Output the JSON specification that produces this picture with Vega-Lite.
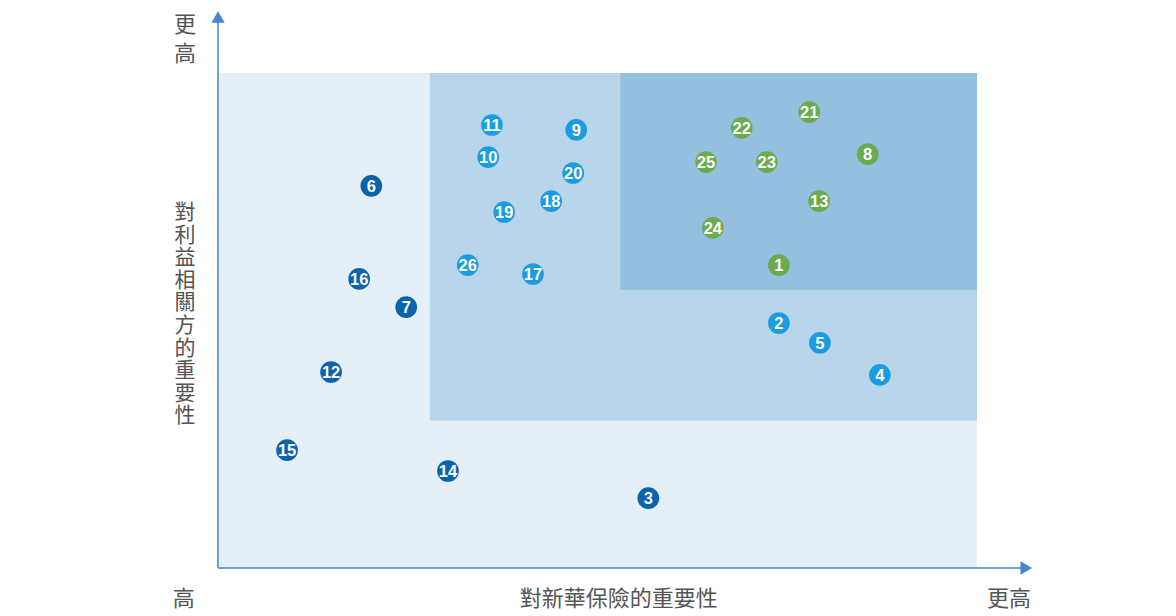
{
  "$schema": "https://vega.github.io/schema/vega-lite/v6.json",
  "width": 834.9,
  "height": 564.3,
  "autosize": {"type": "none"},
  "padding": {"left": 218, "top": 3.7, "right": 123.1, "bottom": 48},
  "background": "white",
  "config": {"view": {"stroke": null}},
  "datasets": {
    "zones": [
      {"zone": "low", "x0": 0, "x1": 100, "y0": 0, "y1": 100},
      {"zone": "mid", "x0": 27.9, "x1": 100, "y0": 29.8, "y1": 100},
      {"zone": "high", "x0": 53.0, "x1": 100, "y0": 56.2, "y1": 100}
    ],
    "issues": [
      {"id": "1", "company": 73.9, "stakeholder": 61.2, "group": "green"},
      {"id": "2", "company": 73.9, "stakeholder": 49.5, "group": "medium"},
      {"id": "3", "company": 56.7, "stakeholder": 14.1, "group": "dark"},
      {"id": "4", "company": 87.2, "stakeholder": 39.0, "group": "medium"},
      {"id": "5", "company": 79.3, "stakeholder": 45.5, "group": "medium"},
      {"id": "6", "company": 20.2, "stakeholder": 77.2, "group": "dark"},
      {"id": "7", "company": 24.8, "stakeholder": 52.7, "group": "dark"},
      {"id": "8", "company": 85.6, "stakeholder": 83.6, "group": "green"},
      {"id": "9", "company": 47.2, "stakeholder": 88.5, "group": "medium"},
      {"id": "10", "company": 35.6, "stakeholder": 83.0, "group": "medium"},
      {"id": "11", "company": 36.1, "stakeholder": 89.5, "group": "medium"},
      {"id": "12", "company": 14.9, "stakeholder": 39.6, "group": "dark"},
      {"id": "13", "company": 79.2, "stakeholder": 74.1, "group": "green"},
      {"id": "14", "company": 30.3, "stakeholder": 19.6, "group": "dark"},
      {"id": "15", "company": 9.1, "stakeholder": 23.8, "group": "dark"},
      {"id": "16", "company": 18.6, "stakeholder": 58.4, "group": "dark"},
      {"id": "17", "company": 41.5, "stakeholder": 59.4, "group": "medium"},
      {"id": "18", "company": 43.9, "stakeholder": 74.1, "group": "medium"},
      {"id": "19", "company": 37.7, "stakeholder": 71.9, "group": "medium"},
      {"id": "20", "company": 46.8, "stakeholder": 79.8, "group": "medium"},
      {"id": "21", "company": 77.9, "stakeholder": 92.1, "group": "green"},
      {"id": "22", "company": 69.0, "stakeholder": 88.9, "group": "green"},
      {"id": "23", "company": 72.3, "stakeholder": 82.0, "group": "green"},
      {"id": "24", "company": 65.2, "stakeholder": 68.7, "group": "green"},
      {"id": "25", "company": 64.3, "stakeholder": 82.0, "group": "green"},
      {"id": "26", "company": 32.9, "stakeholder": 61.2, "group": "medium"}
    ],
    "labels": [
      {"t": "更\n高", "lx": -4.35, "ly": 109.6, "kind": "a"},
      {"t": "對\n利\n益\n相\n關\n方\n的\n重\n要\n性", "lx": -4.35, "ly": 71.7, "kind": "b"},
      {"t": "高", "lx": -4.5, "ly": -6.3, "kind": "a"},
      {"t": "更高", "lx": 104.2, "ly": -6.3, "kind": "a"},
      {"t": "對新華保險的重要性", "lx": 52.8, "ly": -6.3, "kind": "a"}
    ],
    "axes": [
      {"ax": "y", "x0": 0, "x1": 0, "y0": 0, "y1": 111},
      {"ax": "x", "x0": 0, "x1": 106, "y0": 0, "y1": 0}
    ],
    "arrows": [
      {"ax": "y", "ax_x": 0, "ax_y": 111.3, "shape": "triangle-up"},
      {"ax": "x", "ax_x": 106.5, "ax_y": 0, "shape": "triangle-right"}
    ]
  },
  "layer": [
    {
      "data": {"name": "zones"},
      "mark": {"type": "rect"},
      "encoding": {
        "x": {"field": "x0", "type": "quantitative", "scale": {"domain": [0, 110], "nice": false, "zero": false}, "axis": null},
        "x2": {"field": "x1"},
        "y": {"field": "y0", "type": "quantitative", "scale": {"domain": [0, 114], "nice": false, "zero": false}, "axis": null},
        "y2": {"field": "y1"},
        "color": {"field": "zone", "type": "nominal", "scale": {"domain": ["low", "mid", "high"], "range": ["#e5eff7", "#b9d5ea", "#94bfdf"]}, "legend": null}
      }
    },
    {
      "data": {"name": "axes"},
      "mark": {"type": "rule", "color": "#73a0d4", "strokeWidth": 2},
      "encoding": {
        "x": {"field": "x0", "type": "quantitative"},
        "x2": {"field": "x1"},
        "y": {"field": "y0", "type": "quantitative"},
        "y2": {"field": "y1"}
      }
    },
    {
      "data": {"name": "arrows"},
      "mark": {"type": "point", "filled": true, "color": "#4a86c8", "opacity": 1, "size": 180, "clip": false},
      "encoding": {
        "x": {"field": "ax_x", "type": "quantitative"},
        "y": {"field": "ax_y", "type": "quantitative"},
        "shape": {"field": "shape", "type": "nominal", "scale": null}
      }
    },
    {
      "data": {"name": "issues"},
      "mark": {"type": "circle", "opacity": 1, "size": 470},
      "encoding": {
        "x": {"field": "company", "type": "quantitative"},
        "y": {"field": "stakeholder", "type": "quantitative"},
        "fill": {"field": "group", "type": "nominal", "scale": {"domain": ["dark", "medium", "green"], "range": ["#0a64ad", "#1b9ce0", "#6aab4f"]}, "legend": null}
      }
    },
    {
      "data": {"name": "issues"},
      "mark": {"type": "text", "color": "white", "fontSize": 16.5, "fontWeight": "bold", "font": "Liberation Sans", "baseline": "middle", "align": "center", "dy": 1},
      "encoding": {
        "x": {"field": "company", "type": "quantitative"},
        "y": {"field": "stakeholder", "type": "quantitative"},
        "text": {"field": "id", "type": "nominal"}
      }
    },
    {
      "data": {"name": "labels"},
      "transform": [{"filter": "datum.kind == 'a'"}],
      "mark": {"type": "text", "color": "#555555", "fontSize": 22, "font": "Noto Sans CJK TC", "baseline": "middle", "align": "center", "lineBreak": "\n", "lineHeight": 29, "clip": false},
      "encoding": {
        "x": {"field": "lx", "type": "quantitative"},
        "y": {"field": "ly", "type": "quantitative"},
        "text": {"field": "t", "type": "nominal"}
      }
    },
    {
      "data": {"name": "labels"},
      "transform": [{"filter": "datum.kind == 'b'"}],
      "mark": {"type": "text", "color": "#555555", "fontSize": 21, "font": "Noto Sans CJK TC", "baseline": "middle", "align": "center", "lineBreak": "\n", "lineHeight": 22.6, "clip": false},
      "encoding": {
        "x": {"field": "lx", "type": "quantitative"},
        "y": {"field": "ly", "type": "quantitative"},
        "text": {"field": "t", "type": "nominal"}
      }
    }
  ]
}
